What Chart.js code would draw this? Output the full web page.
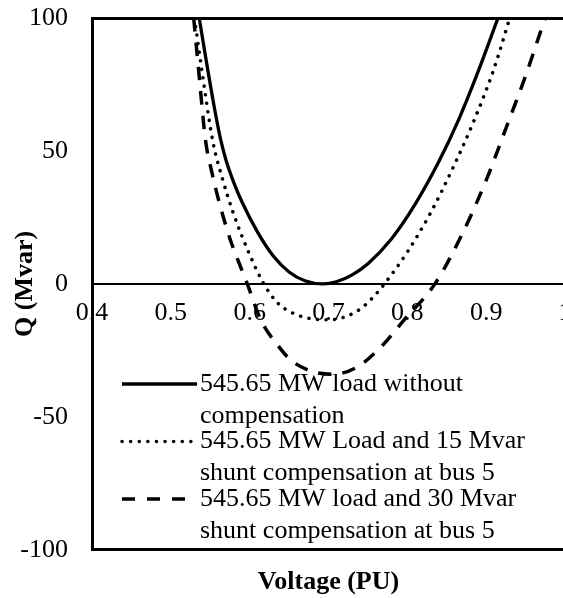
<!DOCTYPE html>
<html>
<head>
<meta charset="utf-8">
<script src="https://cdn.jsdelivr.net/npm/chart.js@4"></script>
<style>
  html, body { margin: 0; padding: 0; background: #fff; overflow: hidden; }
  #clip { width: 563px; height: 598px; overflow: hidden; }
  #wrap { width: 565px; height: 598px; }
</style>
</head>
<body>
<div id="clip"><div id="wrap"><canvas id="qvChart"></canvas></div></div>
<script>
// Q-V curves (voltage in PU, Q in Mvar)
const noCompV = [0.536, 0.546, 0.556, 0.563, 0.570, 0.58, 0.59, 0.61, 0.63, 0.65, 0.67, 0.693, 0.71, 0.73, 0.75, 0.78, 0.81, 0.84, 0.865, 0.89, 0.915];
const noCompQ = [100, 82, 65, 54.5, 46.5, 38, 31, 19.5, 10.5, 4.5, 1.2, 0, 0.8, 3.4, 7.6, 17, 30, 46, 61.7, 80, 100];

const comp15V = [0.530, 0.541, 0.553, 0.565, 0.58, 0.60, 0.618, 0.635, 0.655, 0.68, 0.70, 0.72, 0.74, 0.755, 0.771, 0.80, 0.83, 0.86, 0.885, 0.91, 0.930];
const comp15Q = [100, 77, 54, 40, 26, 11, 0, -7, -11, -13.2, -13.5, -12.5, -9.5, -5.5, 0, 12, 27, 45, 61.7, 81, 100];

const comp30V = [0.529, 0.536, 0.544, 0.552, 0.562, 0.575, 0.587, 0.597, 0.614, 0.637, 0.652, 0.68, 0.705, 0.735, 0.767, 0.796, 0.835, 0.87, 0.90, 0.930, 0.949, 0.971, 0.975];
const comp30Q = [100, 78, 54, 42, 30, 17, 7.5, 0, -13.5, -23.6, -28.6, -33, -34, -31.5, -23.6, -13.5, 0, 19, 39, 62.4, 77.4, 96.6, 100];

const seriesNames = [
    ['545.65 MW load without', 'compensation'],
    ['545.65 MW Load and 15 Mvar', 'shunt compensation at bus 5'],
    ['545.65 MW load and 30 Mvar', 'shunt compensation at bus 5']
];
const xTicks = [0.4, 0.5, 0.6, 0.7, 0.8, 0.9, 1];
const yTicks = [-100, -50, 0, 50, 100];

const serif = '"Liberation Serif", "Times New Roman", serif';
Chart.defaults.font.family = serif;
Chart.defaults.font.size = 26;
Chart.defaults.color = '#000';

function toPoints(xs, ys) {
    return xs.map((v, i) => ({ x: v, y: ys[i] }));
}

// legend drawn inside the plot, lines of each entry stacked
const legendBox = {
    id: 'legendBox',
    afterDraw(chart) {
        const ctx = chart.ctx;
        const firstY = 384, step = 57.5, lineGap = 32;
        ctx.save();
        ctx.font = '26px ' + serif;
        ctx.textBaseline = 'middle';
        ctx.textAlign = 'left';
        chart.data.datasets.forEach((ds, i) => {
            const y = firstY + i * step;
            const dash = i === 2 ? [13, 12] : (ds.borderDash || []);
            const endX = i === 2 ? 185 : 197;
            ctx.beginPath();
            ctx.setLineDash(dash);
            ctx.lineCap = ds.borderCapStyle || 'butt';
            ctx.lineWidth = ds.borderWidth;
            ctx.strokeStyle = ds.borderColor;
            ctx.moveTo(122, y);
            ctx.lineTo(endX, y);
            ctx.stroke();
            ctx.setLineDash([]);
            ctx.fillStyle = '#000';
            seriesNames[i].forEach((t, j) => ctx.fillText(t, 200, y + j * lineGap));
        });
        ctx.restore();
    }
};

new Chart(document.getElementById('qvChart').getContext('2d'), {
    type: 'line',
    data: {
        datasets: [
            {
                label: seriesNames[0].join(' '),
                data: toPoints(noCompV, noCompQ),
                borderColor: '#000',
                borderWidth: 3.3,
                pointRadius: 0,
                cubicInterpolationMode: 'monotone'
            },
            {
                label: seriesNames[1].join(' '),
                data: toPoints(comp15V, comp15Q),
                borderColor: '#000',
                borderWidth: 3.5,
                borderDash: [0.1, 8.5],
                borderCapStyle: 'round',
                pointRadius: 0,
                cubicInterpolationMode: 'monotone'
            },
            {
                label: seriesNames[2].join(' '),
                data: toPoints(comp30V, comp30Q),
                borderColor: '#000',
                borderWidth: 3.5,
                borderDash: [13.5, 11],
                pointRadius: 0,
                cubicInterpolationMode: 'monotone'
            }
        ]
    },
    options: {
        responsive: true,
        maintainAspectRatio: false,
        animation: false,
        layout: { padding: { top: 18, left: 0, right: 0, bottom: 0 } },
        plugins: {
            legend: { display: false },
            tooltip: { enabled: false }
        },
        scales: {
            x: {
                type: 'linear',
                position: 'bottom',
                min: 0.4,
                max: 1,
                grid: { display: false, drawTicks: false },
                border: { display: true, color: '#000', width: 3 },
                ticks: { display: false },
                title: {
                    display: true,
                    text: 'Voltage (PU)',
                    font: { size: 26, weight: 'bold' },
                    padding: { top: 17, bottom: 0 }
                }
            },
            xZero: {
                type: 'linear',
                axis: 'x',
                position: { y: 0 },
                min: 0.4,
                max: 1,
                afterBuildTicks: scale => {
                    scale.ticks = xTicks.map(v => ({ value: v }));
                },
                afterFit: scale => {
                    scale.paddingLeft = 0;
                    scale.paddingRight = 0;
                },
                grid: { display: false, drawTicks: false },
                border: { display: true, color: '#000', width: 2 },
                ticks: {
                    padding: 14,
                    autoSkip: false,
                    maxRotation: 0,
                    font: { size: 26 },
                    callback: v => String(v)
                }
            },
            y: {
                min: -100,
                max: 100,
                afterBuildTicks: scale => {
                    scale.ticks = yTicks.map(v => ({ value: v }));
                },
                afterFit: scale => {
                    scale.width = 92;
                    scale.paddingTop = 0;
                    scale.paddingBottom = 0;
                },
                grid: {
                    drawTicks: false,
                    lineWidth: 3,
                    color: c => (c.tick && c.tick.value === 100 ? '#000' : 'rgba(0,0,0,0)')
                },
                border: { display: true, color: '#000', width: 3 },
                ticks: { padding: 24, font: { size: 26 } },
                title: {
                    display: true,
                    text: 'Q (Mvar)',
                    font: { size: 26, weight: 'bold' },
                    padding: { top: 10, bottom: 0 }
                }
            }
        }
    },
    plugins: [legendBox]
});
</script>
</body>
</html>
